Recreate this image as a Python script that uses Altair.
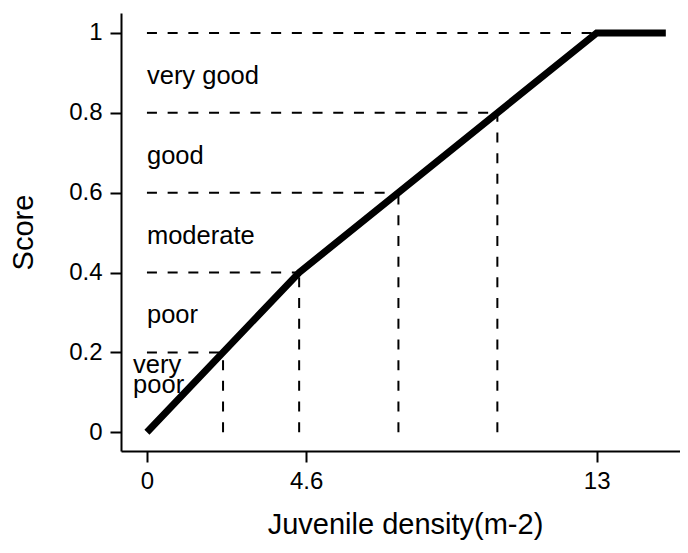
import altair as alt
import pandas as pd

# main scoring curve
line_x = [0, 4.4, 13, 15]
line_score = [0, 0.4, 1, 1]

# class boundaries (score level and density where the curve reaches it)
bound_score = [0.2, 0.4, 0.6, 0.8, 1.0]
bound_x = [2.2, 4.4, 7.27, 10.13, 13]

# vertical drop lines (first four boundaries)
vert_x = [2.2, 4.4, 7.27, 10.13]
vert_score = [0.2, 0.4, 0.6, 0.8]

# class labels
class_text = ["very good", "good", "moderate", "poor", "very\npoor"]
class_x = [0, 0, 0, 0, -0.4]
class_score = [0.9, 0.7, 0.5, 0.3, 0.175]

x_ticks = [0, 4.6, 13]
y_ticks = [0, 0.2, 0.4, 0.6, 0.8, 1]

line_df = pd.DataFrame({"x": line_x, "score": line_score})
h_df = pd.DataFrame({"x0": [0] * len(bound_x), "x": bound_x, "score": bound_score})
v_df = pd.DataFrame({"x": vert_x, "y0": [0] * len(vert_x), "score": vert_score})
t_df = pd.DataFrame({"text": class_text, "x": class_x, "score": class_score})

xscale = alt.Scale(domain=[-0.75, 15.41], nice=False, zero=False)
yscale = alt.Scale(domain=[-0.047, 1.05], nice=False, zero=False)

xaxis = alt.Axis(values=x_ticks, title="Juvenile density(m-2)", labelPadding=7,
                 titlePadding=17, format="~g", titleX=284)
yaxis = alt.Axis(values=y_ticks, title="Score", labelPadding=8, titlePadding=30,
                 format="~g")

dash = [10, 10.7]

hlines = alt.Chart(h_df).mark_rule(color="black", strokeWidth=2, strokeDash=dash).encode(
    x=alt.X("x0:Q", scale=xscale, axis=xaxis),
    x2="x:Q",
    y=alt.Y("score:Q", scale=yscale, axis=yaxis),
)

vlines = alt.Chart(v_df).mark_rule(color="black", strokeWidth=2, strokeDash=dash).encode(
    x=alt.X("x:Q", scale=xscale, axis=xaxis),
    y=alt.Y("y0:Q", scale=yscale, axis=yaxis),
    y2="score:Q",
)

curve = alt.Chart(line_df).mark_line(color="black", strokeWidth=7).encode(
    x=alt.X("x:Q", scale=xscale, axis=xaxis),
    y=alt.Y("score:Q", scale=yscale, axis=yaxis),
)

labels = alt.Chart(t_df).mark_text(
    align="left", baseline="alphabetic", dy=11, fontSize=25.5, lineBreak="\n",
    lineHeight=20, font="Liberation Sans", color="black"
).encode(
    x=alt.X("x:Q", scale=xscale, axis=xaxis),
    y=alt.Y("score:Q", scale=yscale, axis=yaxis),
    text="text:N",
)

chart = alt.layer(hlines, vlines, curve, labels).properties(
    width=559,
    height=438,
    autosize=alt.AutoSizeParams(type="none"),
    padding={"left": 113, "top": 5, "right": 0, "bottom": 94},
).configure_view(stroke=None).configure_axis(
    grid=False,
    domainColor="black",
    domainWidth=2,
    tickColor="black",
    tickWidth=2,
    tickSize=11,
    labelFont="Liberation Sans",
    titleFont="Liberation Sans",
    labelFontSize=24,
    titleFontSize=29,
    labelColor="black",
    titleColor="black",
    titleFontWeight="normal",
)

chart.save("out.html", embed_options={"renderer": "svg", "actions": False})
